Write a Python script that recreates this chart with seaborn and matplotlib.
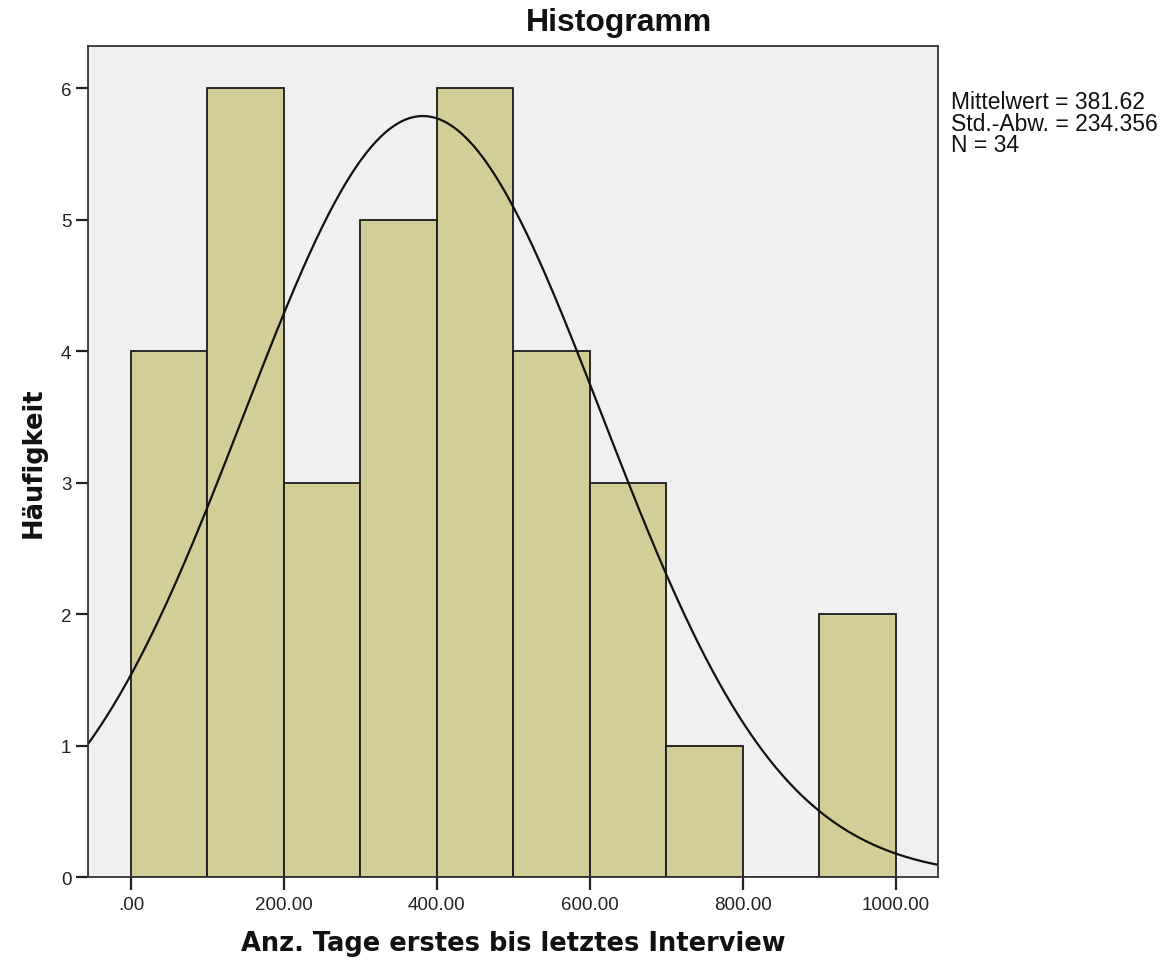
import numpy as np
import pandas as pd
import matplotlib
matplotlib.use('Agg')
import matplotlib.pyplot as plt
import seaborn as sns

# bin data
bin_edges = [0, 100, 200, 300, 400, 500, 600, 700, 800, 900, 1000]
bin_centers = [50, 150, 250, 350, 450, 550, 650, 750, 850, 950]
counts = [4, 6, 3, 5, 6, 4, 3, 1, 0, 2]
mean_val = 381.62
std_val = 234.356
n_total = 34
x_ticks = [0, 200, 400, 600, 800, 1000]
x_tick_labels = ['.00', '200.00', '400.00', '600.00', '800.00', '1000.00']

sns.set_style('white')
plt.rcParams['font.family'] = ['Liberation Sans', 'DejaVu Sans']

hist_df = pd.DataFrame({'Tage': bin_centers, 'count': counts})

fig = plt.figure(figsize=(11.63, 9.70), dpi=100)
ax = fig.add_axes([0.0757, 0.0948, 0.7308, 0.8567])
ax.set_facecolor('#F0F0F0')

sns.histplot(data=hist_df, x='Tage', weights='count', bins=bin_edges,
             color='#D3CE97', alpha=1, edgecolor='#1a1a1a', linewidth=1.3, ax=ax)

# fitted normal curve from the stated mean / sd
xs = np.linspace(-56, 1055, 400)
ys = n_total * 100 * np.exp(-0.5 * ((xs - mean_val) / std_val) ** 2) / (std_val * np.sqrt(2 * np.pi))
curve_df = pd.DataFrame({'x': xs, 'y': ys})
sns.lineplot(data=curve_df, x='x', y='y', color='#111111', linewidth=1.6, ax=ax)

ax.set_xlim(-56, 1055)
ax.set_ylim(0, 6.32)
ax.set_xticks(x_ticks)
ax.set_xticklabels(x_tick_labels)
ax.set_yticks(range(0, 7))
ax.tick_params(axis='both', direction='out', length=9, width=1.6, labelsize=13.5,
               colors='#222222', bottom=True, left=True, pad=3)
ax.tick_params(axis='x', pad=5)
for s in ax.spines.values():
    s.set_color('#333333')
    s.set_linewidth(1.3)

lab_font = {'family': 'DejaVu Sans', 'weight': 'bold', 'size': 18.5, 'color': '#111111'}
ax.set_xlabel('Anz. Tage erstes bis letztes Interview', fontdict=lab_font, labelpad=12)
ax.set_ylabel('Häufigkeit', fontdict=lab_font, labelpad=10)

fig.text(619 / 1163, 1 - 23 / 970, 'Histogramm', fontsize=23, fontweight='bold',
         ha='center', va='center', color='#111111')

fig.text(0.818, 0.906, 'Mittelwert = 381.62\nStd.-Abw. = 234.356\nN = 34',
         fontsize=16.5, va='top', ha='left', linespacing=0.92, color='#111111')

fig.savefig('out.png', dpi=100)
